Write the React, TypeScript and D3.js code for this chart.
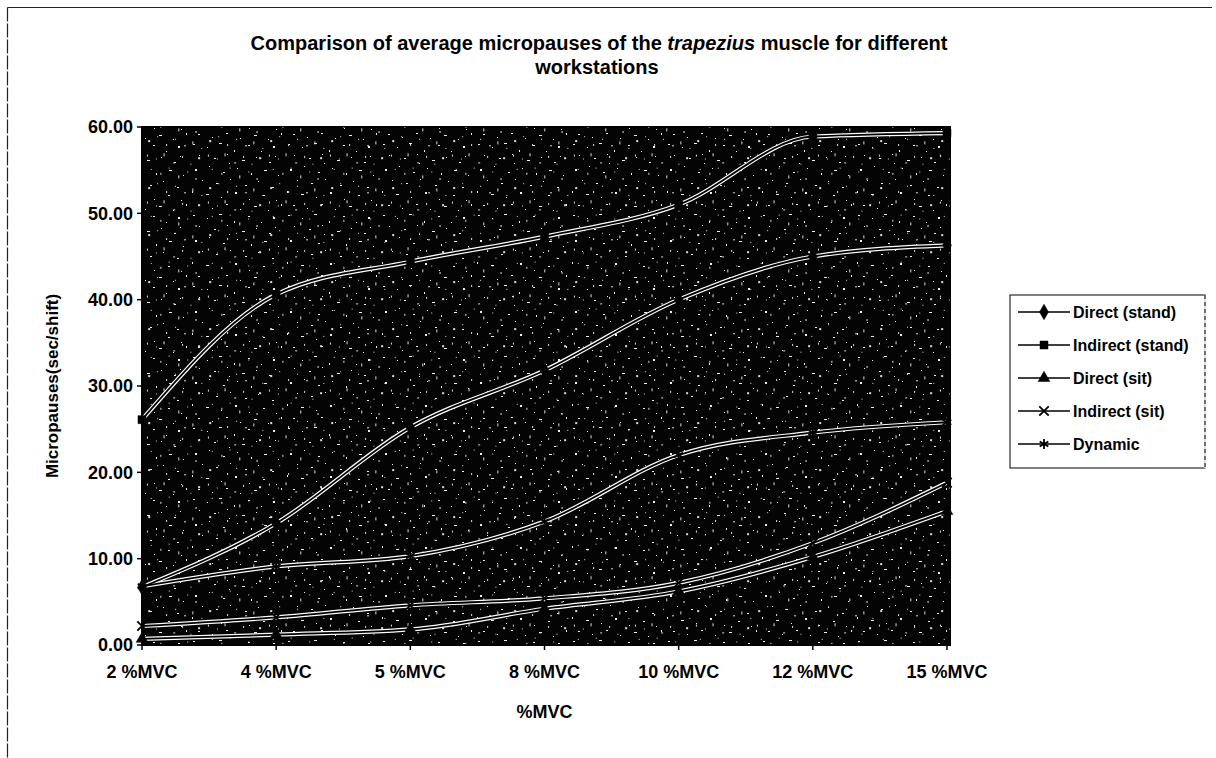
import React from 'react';
import * as d3 from 'd3';

// values
const categories = ['2 %MVC', '4 %MVC', '5 %MVC', '8 %MVC', '10 %MVC', '12 %MVC', '15 %MVC'];
const directStand = [6.7, 14.1, 25.2, 31.8, 40.0, 45.0, 46.3];
const indirectStand = [26.1, 40.6, 44.4, 47.3, 51.0, 58.9, 59.3];
const directSit = [0.7, 1.2, 1.8, 4.2, 6.2, 10.2, 15.5];
const indirectSit = [2.2, 3.2, 4.6, 5.4, 7.2, 11.8, 18.8];
const dynamic = [6.8, 9.1, 10.3, 14.3, 22.0, 24.6, 25.8];
const seriesNames = ['Direct (stand)', 'Indirect (stand)', 'Direct (sit)', 'Indirect (sit)', 'Dynamic'];
const yTicks = [0, 10, 20, 30, 40, 50, 60];

const W = 1216;
const H = 758;
const plot = { left: 142, right: 947, top: 127, bottom: 645 };
const font = "'Liberation Sans', Arial, sans-serif";

// speckle texture of the scanned plot background (one irregular tile, not data)
const specks = [
  [3, 2, 2, 1], [17, 5, 1, 1], [29, 1, 3, 1], [44, 8, 1, 2], [58, 3, 2, 1], [71, 9, 1, 1],
  [83, 4, 2, 2], [9, 13, 1, 1], [24, 16, 2, 1], [37, 12, 1, 1], [52, 18, 3, 1], [66, 15, 1, 1],
  [79, 20, 2, 1], [5, 27, 2, 2], [19, 24, 1, 1], [33, 30, 2, 1], [47, 26, 1, 1], [61, 31, 1, 2],
  [74, 28, 3, 1], [88, 33, 1, 1], [12, 38, 1, 1], [26, 41, 2, 1], [40, 37, 1, 1], [55, 43, 2, 1],
  [68, 39, 1, 1], [82, 45, 2, 1], [2, 49, 1, 2], [16, 52, 3, 1], [31, 55, 1, 1], [45, 50, 2, 2],
  [59, 57, 1, 1], [73, 53, 2, 1], [86, 58, 1, 1], [8, 63, 2, 1], [22, 66, 1, 1], [36, 62, 2, 1],
  [50, 67, 1, 1], [64, 64, 3, 1], [78, 68, 1, 1], [91, 62, 1, 2], [39, 21, 1, 1], [85, 14, 1, 1],
];

const markers = [
  { type: d3.symbolDiamond, size: 70, fill: true },
  { type: d3.symbolSquare, size: 64, fill: true },
  { type: d3.symbolTriangle, size: 60, fill: true },
  { type: d3.symbolX, size: 60, fill: false },
  { type: d3.symbolAsterisk, size: 70, fill: false },
];

function Marker({ i, x, y }: { i: number; x: number; y: number }) {
  const m = markers[i];
  const path = d3.symbol().type(m.type).size(m.size)() as string;
  return (
    <path
      d={path}
      transform={`translate(${x},${y})`}
      fill={m.fill ? '#000' : 'none'}
      stroke="#000"
      strokeWidth={m.fill ? 0.5 : 1.8}
    />
  );
}

export default function App() {
  const series = [directStand, indirectStand, directSit, indirectSit, dynamic];

  const x = d3.scalePoint<string>().domain(categories).range([plot.left, plot.right]);
  const y = d3.scaleLinear().domain([0, 60]).range([plot.bottom, plot.top]);

  const line = d3
    .line<number>()
    .x((_, i) => x(categories[i]) as number)
    .y((d) => y(d))
    .curve(d3.curveMonotoneX);

  const legend = { x: 1010, y: 295, w: 195, h: 173, step: 33 };

  return (
    <div style={{ position: 'absolute', left: 0, top: 0 }}>
      <svg width={W} height={H} style={{ display: 'block', background: '#fff' }}>
        <defs>
          <pattern id="speck" width={95} height={71} patternUnits="userSpaceOnUse">
            <rect width={95} height={71} fill="#040404" />
            {specks.map((s, i) => (
              <rect key={i} x={s[0]} y={s[1]} width={s[2]} height={s[3]} fill="#eeeeee" />
            ))}
          </pattern>
          <pattern id="speck2" width={61} height={47} patternUnits="userSpaceOnUse" patternTransform="translate(23,11)">
            {specks.slice(0, 20).map((s, i) => (
              <rect key={i} x={(s[0] * 0.64) % 61} y={(s[1] * 1.3) % 47} width={s[3]} height={s[2]} fill="#dddddd" />
            ))}
          </pattern>
          <clipPath id="plotClip">
            <rect x={plot.left} y={plot.top - 4} width={plot.right - plot.left} height={plot.bottom - plot.top + 4} />
          </clipPath>
        </defs>

        {/* chart frame (top and left edges visible in scan) */}
        <line x1={7.5} x2={1212} y1={7.5} y2={7.5} stroke="#222" strokeWidth={1.2} />
        <line x1={7.5} x2={7.5} y1={7.5} y2={H} stroke="#222" strokeWidth={1.2} strokeDasharray="14 2" />

        {/* title */}
        <text x={599} y={50} textAnchor="middle" fontFamily={font} fontWeight={700} fontSize={20}>
          Comparison of average micropauses of the <tspan fontStyle="italic">trapezius</tspan> muscle for different
        </text>
        <text x={597} y={74} textAnchor="middle" fontFamily={font} fontWeight={700} fontSize={20}>
          workstations
        </text>

        {/* plot area */}
        <rect
          x={plot.left}
          y={plot.top}
          width={plot.right - plot.left + 3}
          height={plot.bottom - plot.top}
          fill="url(#speck)"
          stroke="#000"
          strokeWidth={2}
        />
        <rect
          x={plot.left}
          y={plot.top}
          width={plot.right - plot.left + 3}
          height={plot.bottom - plot.top}
          fill="url(#speck2)"
        />

        {/* series: dark lines with light edges */}
        <g clipPath="url(#plotClip)">
          {series.map((s, i) => (
            <path key={'w' + i} d={line(s) as string} fill="none" stroke="#fff" strokeWidth={4.2} />
          ))}
          {series.map((s, i) => (
            <path key={'b' + i} d={line(s) as string} fill="none" stroke="#000" strokeWidth={1.8} />
          ))}
        </g>
        {series.map((s, i) => (
          <g key={'m' + i}>
            {s.map((v, j) => (
              <Marker key={j} i={i} x={x(categories[j]) as number} y={y(v)} />
            ))}
          </g>
        ))}

        {/* y axis */}
        <line x1={plot.left} x2={plot.left} y1={plot.top} y2={plot.bottom} stroke="#000" strokeWidth={2} />
        {yTicks.map((t) => (
          <g key={t}>
            <line x1={plot.left - 5} x2={plot.left} y1={y(t)} y2={y(t)} stroke="#000" strokeWidth={1.5} />
            <text
              x={plot.left - 9}
              y={y(t)}
              dy="0.36em"
              textAnchor="end"
              fontFamily={font}
              fontWeight={700}
              fontSize={18}
            >
              {d3.format('.2f')(t)}
            </text>
          </g>
        ))}
        <text
          transform={`translate(52,${(plot.top + plot.bottom) / 2}) rotate(-90)`}
          textAnchor="middle"
          dy="0.36em"
          fontFamily={font}
          fontWeight={700}
          fontSize={17}
        >
          Micropauses(sec/shift)
        </text>

        {/* x axis */}
        <line x1={plot.left} x2={plot.right + 2} y1={plot.bottom} y2={plot.bottom} stroke="#000" strokeWidth={2} />
        {categories.map((c) => (
          <g key={c}>
            <line x1={x(c)} x2={x(c)} y1={plot.bottom} y2={plot.bottom + 5} stroke="#000" strokeWidth={1.5} />
            <text x={x(c)} y={678} textAnchor="middle" fontFamily={font} fontWeight={700} fontSize={18}>
              {c}
            </text>
          </g>
        ))}
        <text
          x={(plot.left + plot.right) / 2}
          y={718}
          textAnchor="middle"
          fontFamily={font}
          fontWeight={700}
          fontSize={18}
        >
          %MVC
        </text>

        {/* legend */}
        <rect x={legend.x} y={legend.y} width={legend.w} height={legend.h} fill="#fff" stroke="#000" strokeWidth={1} />
        <line
          x1={legend.x + legend.w}
          x2={legend.x + legend.w}
          y1={legend.y}
          y2={legend.y + legend.h}
          stroke="#fff"
          strokeWidth={1.5}
        />
        <line
          x1={legend.x + legend.w}
          x2={legend.x + legend.w}
          y1={legend.y}
          y2={legend.y + legend.h}
          stroke="#000"
          strokeWidth={1}
          strokeDasharray="4 3"
        />
        {seriesNames.map((n, i) => {
          const ly = legend.y + 17 + i * legend.step;
          return (
            <g key={n}>
              <line x1={legend.x + 8} x2={legend.x + 60} y1={ly} y2={ly} stroke="#000" strokeWidth={1.5} />
              <Marker i={i} x={legend.x + 34} y={ly} />
              <text x={legend.x + 63} y={ly} dy="0.36em" fontFamily={font} fontWeight={700} fontSize={16}>
                {n}
              </text>
            </g>
          );
        })}
      </svg>
    </div>
  );
}
